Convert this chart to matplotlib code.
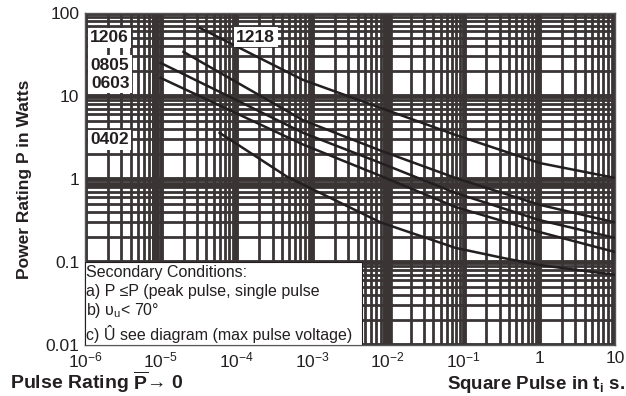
import numpy as np
import matplotlib.pyplot as plt
from matplotlib.patches import Rectangle

plt.rcParams['font.family'] = ['Liberation Sans', 'DejaVu Sans']
plt.rcParams['mathtext.fontset'] = 'custom'
plt.rcParams['mathtext.rm'] = 'Liberation Sans'
plt.rcParams['mathtext.it'] = 'Liberation Sans:italic'
plt.rcParams['mathtext.bf'] = 'Liberation Sans:bold'

# curve data (pulse time in s, power in W)
t_1218 = [3.3e-5, 7.6e-4, 8e-3, 0.078, 1, 10]
p_1218 = [66, 15.6, 7.2, 3.4, 1.56, 1.03]
t_1206 = [2e-5, 7.6e-4, 8e-3, 0.078, 1, 10]
p_1206 = [34, 5.1, 2.2, 1.03, 0.49, 0.30]
t_0805 = [1e-5, 7.6e-4, 8e-3, 0.078, 1, 10]
p_0805 = [25, 3.6, 1.56, 0.68, 0.32, 0.195]
t_0603 = [1e-5, 7.6e-4, 8e-3, 0.078, 1, 10]
p_0603 = [16.5, 2.6, 1.09, 0.46, 0.23, 0.132]
t_0402 = [6e-5, 4.7e-4, 8e-3, 0.078, 0.33, 1, 10]
p_0402 = [3.6, 1.06, 0.30, 0.148, 0.112, 0.092, 0.070]

curves = [t_1218, t_1206, t_0805, t_0603, t_0402]
powers = [p_1218, p_1206, p_0805, p_0603, p_0402]

# label name, x, y (data coords of label centre)
names = ['1206', '0805', '0603', '0402', '1218']
name_x = [2.1e-6, 2.15e-6, 2.15e-6, 2.1e-6, 1.8e-4]
name_y = [50, 23.6, 14.2, 2.95, 51]

xticks = [1e-6, 1e-5, 1e-4, 1e-3, 1e-2, 1e-1, 1, 10]
xticklabels = ['$10^{-6}$', '$10^{-5}$', '$10^{-4}$', '$10^{-3}$', '$10^{-2}$', '$10^{-1}$', '1', '10']
yticks = [0.01, 0.1, 1, 10, 100]
yticklabels = ['0.01', '0.1', '1', '10', '100']

notes = ['Secondary Conditions:',
         'a) P \u2264P (peak pulse, single pulse',
         'b) \u03c5$_\\mathrm{u}$< 70\u00b0',
         'c) \u00db see diagram (max pulse voltage)']

grid_c = '#3a3435'

fig = plt.figure(figsize=(6.26, 3.96), dpi=100)
ax = fig.add_axes([0.1358, 0.1288, 0.8466, 0.8384])
ax.set_xscale('log')
ax.set_yscale('log')
ax.set_xlim(1e-6, 10)
ax.set_ylim(0.01, 100)

ax.grid(True, which='major', color=grid_c, lw=3.5, zorder=1)
ax.grid(True, which='minor', color=grid_c, lw=2.0, zorder=1)
ax.set_axisbelow(True)
for xv, w in [(8.5e-6, 5), (1e-2, 7)]:
    ax.axvline(xv, color=grid_c, lw=w, zorder=1)
ax.axhline(0.85, color=grid_c, lw=3.5, zorder=1)

for t, p in zip(curves, powers):
    ax.plot(t, p, color='#231f20', lw=1.8, zorder=3)

for n, x, y in zip(names, name_x, name_y):
    ax.text(x, y, n, fontsize=12.5, fontweight='bold', ha='center', va='center', color='#231f20',
            bbox=dict(facecolor='white', edgecolor='none', pad=1.8), zorder=5)

# conditions box
ax.add_patch(Rectangle((1e-6, 0.01), 4.6e-3 - 1e-6, 0.1 - 0.01, facecolor='white',
                       edgecolor='#231f20', lw=0.8, zorder=4))
ny = [0.075, 0.044, 0.026, 0.0137]
for s, y in zip(notes, ny):
    ax.text(1.03e-6, y, s, fontsize=11.5, ha='left', va='center', color='#231f20', zorder=5)

ax.set_xticks(xticks)
ax.set_xticklabels(xticklabels)
ax.set_yticks(yticks)
ax.set_yticklabels(yticklabels)
ax.tick_params(which='both', length=0, labelsize=12.5, labelcolor='#231f20', pad=4)
for s in ax.spines.values():
    s.set_color('#555555')
    s.set_linewidth(1)

ax.set_ylabel('Power Rating P in Watts', fontsize=12.5, fontweight='bold', color='#231f20', labelpad=10)
fig.text(0.016, 0.018, 'Pulse Rating $\\overline{\\mathbf{P}}$\u2192 0', fontsize=14, fontweight='bold', color='#231f20')
fig.text(0.998, 0.018, 'Square Pulse in t$_\\mathbf{i}$ s.', fontsize=13.5, fontweight='bold', color='#231f20', ha='right')

fig.savefig('out.png', dpi=100)
